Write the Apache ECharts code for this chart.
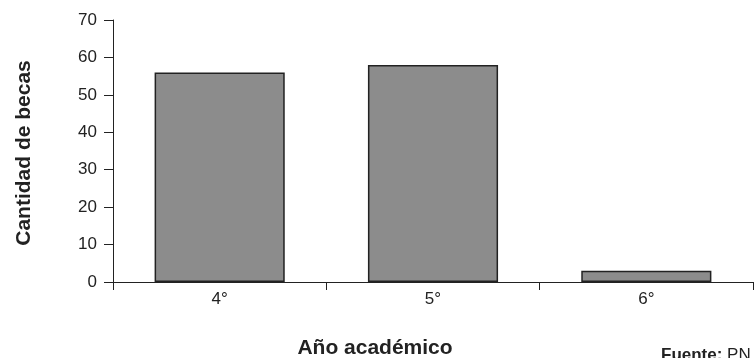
<!DOCTYPE html>
<html>
<head>
<meta charset="utf-8">
<script src="https://cdn.jsdelivr.net/npm/echarts@6/dist/echarts.min.js"></script>
<style>
  html, body { margin: 0; padding: 0; background: #fff; }
  #chart { width: 756px; height: 358px; }
</style>
</head>
<body>
<div id="chart"></div>
<script>
const categories = ['4°', '5°', '6°']
const becas = [56, 58, 3]
const yTicks = [0, 10, 20, 30, 40, 50, 60, 70]

const chart = echarts.init(document.getElementById('chart'))
chart.setOption({
  animation: false,
  textStyle: { fontFamily: 'Liberation Sans, Arial, sans-serif' },
  grid: { left: 113, right: 3, top: 20, bottom: 76 },
  xAxis: {
    type: 'category',
    data: categories,
    axisLine: { lineStyle: { color: '#222', width: 1 } },
    axisTick: { show: true, length: 8, lineStyle: { color: '#222' } },
    axisLabel: { color: '#222', fontSize: 17, margin: 9 }
  },
  yAxis: {
    type: 'value',
    min: yTicks[0],
    max: yTicks[yTicks.length - 1],
    interval: 10,
    splitLine: { show: false },
    axisLine: { show: true, lineStyle: { color: '#222', width: 1 } },
    axisTick: { show: true, length: 9, lineStyle: { color: '#222' } },
    axisLabel: { color: '#222', fontSize: 17, margin: 16 }
  },
  graphic: [
    {
      // titulo eje Y
      type: 'text',
      x: 24, y: 153,
      rotation: Math.PI / 2,
      style: {
        text: 'Cantidad de becas',
        align: 'center',
        verticalAlign: 'middle',
        font: 'bold 21px Liberation Sans, Arial, sans-serif',
        fill: '#222'
      }
    },
    {
      // titulo eje X
      type: 'text',
      x: 375, y: 348,
      style: {
        text: 'Año académico',
        align: 'center',
        verticalAlign: 'middle',
        font: 'bold 21px Liberation Sans, Arial, sans-serif',
        fill: '#222'
      }
    },
    {
      type: 'text',
      x: 661, y: 355,
      style: {
        text: '{b|Fuente:} PN',
        align: 'left',
        verticalAlign: 'middle',
        font: '17px Liberation Sans, Arial, sans-serif',
        fill: '#222',
        rich: { b: { fontWeight: 'bold', fontSize: 17 } }
      }
    }
  ],
  series: [{
    type: 'bar',
    data: becas,
    barWidth: '61%',
    itemStyle: { color: '#8c8c8c', borderColor: '#222', borderWidth: 1.5 }
  }]
})
</script>
</body>
</html>
